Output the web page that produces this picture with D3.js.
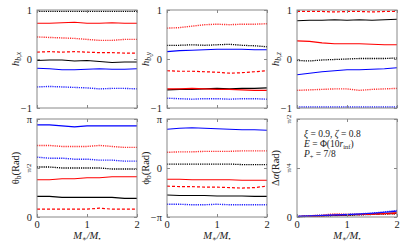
<!DOCTYPE html>
<html>
<head>
<meta charset="utf-8">
<script src="https://cdn.jsdelivr.net/npm/d3@7"></script>
<style>
  body { margin: 0; background: #fff; }
  svg text { font-family: "Liberation Serif", "DejaVu Serif", serif; fill: #222; }
</style>
</head>
<body>
<svg id="chart"></svg>
<script>
// x grid shared by every curve (M_*/M_bh)
const massRatio = [0, 0.25, 0.5, 0.75, 1, 1.25, 1.5, 1.75, 2];

// series order in every panel array below
const seriesKeys = ['blackSolid', 'blackDotted', 'redSolid', 'redDotted', 'redDashed', 'blueSolid', 'blueDotted'];

const hbx = [
    [-0.03, -0.02, -0.02, -0.04, -0.03, -0.05, -0.07, -0.06, -0.06],
    [0.97, 0.97, 0.97, 0.97, 0.97, 0.97, 0.97, 0.97, 0.97],
    [0.73, 0.73, 0.74, 0.75, 0.73, 0.73, 0.74, 0.73, 0.73],
    [0.45, 0.44, 0.43, 0.42, 0.40, 0.38, 0.38, 0.40, 0.40],
    [0.14, 0.15, 0.14, 0.15, 0.14, 0.13, 0.13, 0.12, 0.12],
    [-0.19, -0.20, -0.22, -0.22, -0.21, -0.20, -0.21, -0.21, -0.20],
    [-0.57, -0.56, -0.57, -0.58, -0.59, -0.61, -0.60, -0.60, -0.61]
];
const hby = [
    [-0.63, -0.62, -0.62, -0.61, -0.60, -0.61, -0.60, -0.60, -0.59],
    [0.28, 0.28, 0.29, 0.28, 0.29, 0.30, 0.28, 0.27, 0.25],
    [-0.61, -0.61, -0.60, -0.61, -0.62, -0.62, -0.63, -0.64, -0.64],
    [0.63, 0.64, 0.67, 0.70, 0.71, 0.70, 0.71, 0.71, 0.72],
    [-0.24, -0.25, -0.25, -0.26, -0.27, -0.29, -0.28, -0.26, -0.24],
    [0.15, 0.17, 0.18, 0.19, 0.20, 0.20, 0.20, 0.19, 0.19],
    [-0.80, -0.81, -0.82, -0.81, -0.81, -0.82, -0.81, -0.81, -0.82]
];
const hbz = [
    [0.78, 0.79, 0.79, 0.80, 0.79, 0.80, 0.79, 0.80, 0.81],
    [-0.03, -0.04, -0.02, -0.01, 0.0, 0.01, 0.01, 0.01, 0.02],
    [0.37, 0.36, 0.33, 0.31, 0.31, 0.31, 0.30, 0.29, 0.29],
    [-0.64, -0.63, -0.62, -0.61, -0.61, -0.64, -0.62, -0.61, -0.60],
    [0.97, 0.97, 0.97, 0.96, 0.97, 0.97, 0.96, 0.97, 0.97],
    [-0.32, -0.29, -0.26, -0.24, -0.22, -0.22, -0.21, -0.20, -0.18],
    [-0.98, -0.98, -0.98, -0.98, -0.98, -0.98, -0.98, -0.98, -0.98]
];
// angles below are in units of pi
const thetaB = [
    [0.21, 0.21, 0.20, 0.20, 0.20, 0.20, 0.20, 0.19, 0.19],
    [0.51, 0.51, 0.50, 0.50, 0.50, 0.50, 0.49, 0.49, 0.49],
    [0.38, 0.38, 0.39, 0.39, 0.40, 0.40, 0.41, 0.41, 0.41],
    [0.73, 0.73, 0.72, 0.72, 0.72, 0.73, 0.72, 0.71, 0.71],
    [0.08, 0.08, 0.08, 0.08, 0.08, 0.09, 0.08, 0.08, 0.08],
    [0.94, 0.94, 0.93, 0.92, 0.93, 0.93, 0.93, 0.93, 0.93],
    [0.61, 0.60, 0.60, 0.59, 0.59, 0.58, 0.58, 0.57, 0.57]
];
const phiB = [
    [-0.55, -0.56, -0.56, -0.56, -0.57, -0.57, -0.57, -0.58, -0.58],
    [0.08, 0.08, 0.08, 0.08, 0.08, 0.08, 0.07, 0.07, 0.07],
    [-0.23, -0.23, -0.24, -0.24, -0.24, -0.24, -0.25, -0.25, -0.25],
    [0.32, 0.33, 0.33, 0.34, 0.34, 0.34, 0.35, 0.35, 0.35],
    [-0.37, -0.38, -0.38, -0.39, -0.39, -0.40, -0.41, -0.40, -0.37],
    [0.79, 0.81, 0.82, 0.81, 0.80, 0.79, 0.78, 0.78, 0.77],
    [-0.74, -0.74, -0.75, -0.75, -0.74, -0.75, -0.75, -0.75, -0.75]
];
const deltaAlpha = [
    [0.002, 0.004, 0.006, 0.008, 0.010, 0.013, 0.016, 0.018, 0.020],
    [0.002, 0.003, 0.005, 0.007, 0.009, 0.011, 0.013, 0.015, 0.017],
    [0.002, 0.004, 0.007, 0.010, 0.012, 0.014, 0.016, 0.018, 0.022],
    [0.003, 0.006, 0.010, 0.016, 0.014, 0.013, 0.015, 0.017, 0.019],
    [0.002, 0.004, 0.006, 0.009, 0.011, 0.012, 0.014, 0.016, 0.018],
    [0.003, 0.005, 0.008, 0.010, 0.012, 0.015, 0.019, 0.024, 0.030],
    [0.003, 0.006, 0.009, 0.011, 0.013, 0.016, 0.020, 0.026, 0.033]
];

const xTicks = [0, 1, 2];

const styles = {
    blackSolid:  {color: '#000', dash: null, w: 1.1},
    blackDotted: {color: '#000', dash: '1.2,1', w: 1.3},
    redSolid:    {color: '#f00', dash: null, w: 1.1},
    redDotted:   {color: '#ff3030', dash: '1.2,1', w: 1.4},
    redDashed:   {color: '#f00', dash: '3,2', w: 1.2},
    blueSolid:   {color: '#00f', dash: null, w: 1.1},
    blueDotted:  {color: '#2020ff', dash: '1.2,1', w: 1.4}
};

const W = 407, H = 244;
const colX = [37, 167, 297];
const rowY = [10, 119];
const pw = 100, ph = 98;

const svg = d3.select('#chart').attr('width', W).attr('height', H);

const panels = [
    {col: 0, row: 0, data: hbx, domain: [-1, 1], ticks: [-1, 0, 1], label: 'hbx'},
    {col: 1, row: 0, data: hby, domain: [-1, 1], ticks: [-1, 0, 1], label: 'hby'},
    {col: 2, row: 0, data: hbz, domain: [-1, 1], ticks: [-1, 0, 1], label: 'hbz'},
    {col: 0, row: 1, data: thetaB, domain: [0, 1], ticks: [0, 0.5, 1], label: 'theta'},
    {col: 1, row: 1, data: phiB, domain: [-1, 1], ticks: [-1, 0, 1], label: 'phi'},
    {col: 2, row: 1, data: deltaAlpha, domain: [0, 0.5], ticks: [0, 0.25, 0.5], label: 'alpha'}
];

function piLabel(v) {
    if (v === 0) return '0';
    if (v === 1) return 'π';
    if (v === -1) return '−π';
    return null;
}

panels.forEach(p => {
    const x0 = colX[p.col], y0 = rowY[p.row];
    const g = svg.append('g').attr('transform', `translate(${x0},${y0})`);

    const xScale = d3.scaleLinear().domain([0, 2]).range([0, pw]);
    const yScale = d3.scaleLinear().domain(p.domain).range([ph, 0]);

    const line = d3.line()
        .x((d, i) => xScale(massRatio[i]))
        .y(d => yScale(d));

    g.selectAll('.series')
        .data(p.data)
        .join('path')
        .attr('class', 'series')
        .attr('fill', 'none')
        .attr('stroke', (d, i) => styles[seriesKeys[i]].color)
        .attr('stroke-width', (d, i) => styles[seriesKeys[i]].w)
        .attr('stroke-dasharray', (d, i) => styles[seriesKeys[i]].dash)
        .attr('d', line);

    // inward ticks on all four sides
    const mk = (axis, tr) => g.append('g').attr('transform', tr)
        .call(axis.tickFormat('').tickSizeOuter(0))
        .call(a => a.select('.domain').remove())
        .call(a => a.selectAll('line').attr('stroke', '#888'));
    mk(d3.axisBottom(xScale).tickValues(xTicks).tickSizeInner(-3), `translate(0,${ph})`);
    mk(d3.axisTop(xScale).tickValues(xTicks).tickSizeInner(-3), 'translate(0,0)');
    mk(d3.axisLeft(yScale).tickValues(p.ticks).tickSizeInner(-3), 'translate(0,0)');
    mk(d3.axisRight(yScale).tickValues(p.ticks).tickSizeInner(-3), `translate(${pw},0)`);

    g.append('rect')
        .attr('width', pw).attr('height', ph)
        .attr('fill', 'none').attr('stroke', '#888').attr('stroke-width', 1);

    // y tick labels
    p.ticks.forEach(t => {
        const ty = yScale(t);
        let txt;
        if (p.row === 0) txt = t === 0 ? '0' : (t > 0 ? '1' : '−1');
        else if (p.label === 'alpha') txt = t === 0 ? '0' : null;
        else txt = piLabel(t);
        if (txt !== null) {
            g.append('text')
                .attr('x', -5).attr('y', ty).attr('dy', '0.35em')
                .attr('text-anchor', 'end').style('font-size', '10.5px')
                .text(txt);
        } else {
            const frac = t === 0.5 ? 'π/2' : 'π/4';
            g.append('text')
                .attr('transform', `translate(-6,${ty}) rotate(-90)`)
                .attr('text-anchor', 'middle').style('font-size', '7px')
                .text(frac);
        }
    });

    // x tick labels on bottom row
    if (p.row === 1) {
        xTicks.forEach(t => {
            g.append('text')
                .attr('x', xScale(t)).attr('y', ph + 11)
                .attr('text-anchor', 'middle').style('font-size', '10.5px')
                .text(t);
        });
        const xl = g.append('text')
            .attr('x', pw / 2).attr('y', ph + 22)
            .attr('text-anchor', 'middle').style('font-size', '10.5px')
            .style('font-style', 'italic');
        xl.append('tspan').text('M');
        xl.append('tspan').attr('dy', 2).style('font-size', '7px').text('∗');
        xl.append('tspan').attr('dy', -2).text('/M');
        xl.append('tspan').attr('dy', 2).style('font-size', '7px').style('font-style', 'normal').text('•');
    }

    // y axis label
    const yl = g.append('text')
        .attr('transform', `translate(-18,${ph / 2}) rotate(-90)`)
        .attr('text-anchor', 'middle').style('font-size', '10.5px');
    if (p.row === 0) {
        yl.append('tspan').style('font-style', 'italic').text('h');
        yl.append('tspan').attr('dy', 2).style('font-size', '7.5px').style('font-style', 'italic')
            .text('b,' + p.label.slice(2));
    } else if (p.label === 'alpha') {
        yl.append('tspan').text('Δ');
        yl.append('tspan').style('font-style', 'italic').text('α');
        yl.append('tspan').text('(Rad)');
    } else {
        yl.append('tspan').text(p.label === 'theta' ? 'θ' : 'ϕ');
        yl.append('tspan').attr('dy', 2).style('font-size', '7.5px').text('b');
        yl.append('tspan').attr('dy', -2).text('(Rad)');
    }

    if (p.label === 'alpha') {
        const at = g.append('g').attr('transform', 'translate(7,0)').style('font-size', '9.5px');
        const l1 = at.append('text').attr('y', 18);
        l1.append('tspan').style('font-style', 'italic').text('ξ');
        l1.append('tspan').text(' = 0.9, ');
        l1.append('tspan').style('font-style', 'italic').text('ζ');
        l1.append('tspan').text(' = 0.8');
        const e = at.append('text').attr('y', 28);
        e.append('tspan').style('font-style', 'italic').text('E');
        e.append('tspan').text(' = Φ(10');
        e.append('tspan').style('font-style', 'italic').text('r');
        e.append('tspan').attr('dy', 1.5).style('font-size', '6.5px').text('inf');
        e.append('tspan').attr('dy', -1.5).text(')');
        const pp = at.append('text').attr('y', 38);
        pp.append('tspan').style('font-style', 'italic').text('P');
        pp.append('tspan').attr('dy', 1.5).style('font-size', '6.5px').text('+');
        pp.append('tspan').attr('dy', -1.5).text(' = 7/8');
    }
});
</script>
</body>
</html>
